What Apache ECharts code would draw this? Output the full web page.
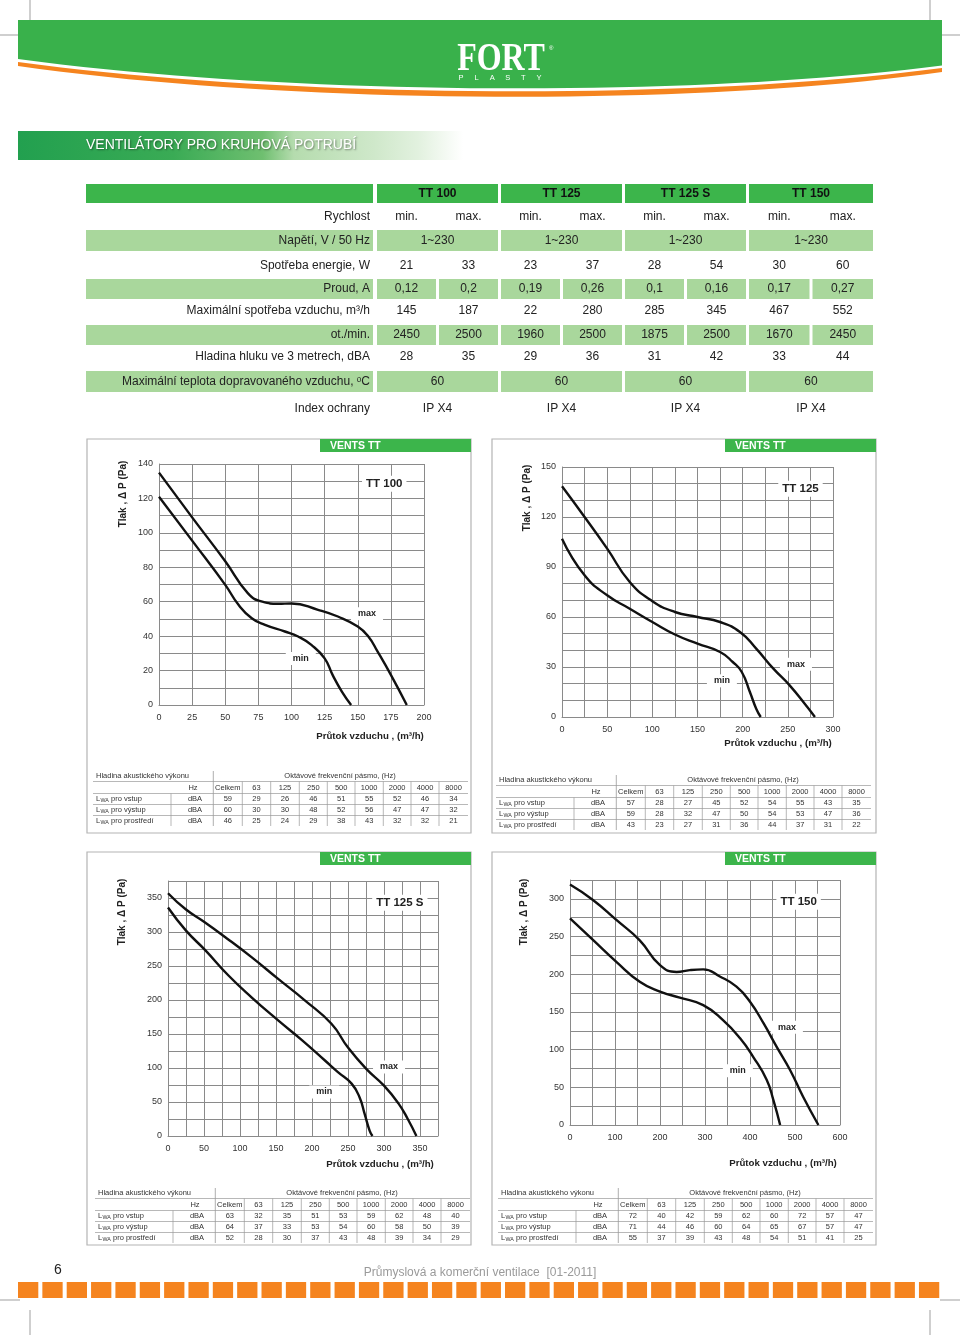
<!DOCTYPE html>
<html><head><meta charset="utf-8">
<script src="https://cdn.jsdelivr.net/npm/echarts@6/dist/echarts.min.js"></script>
<style>html,body{margin:0;padding:0;background:#fff}#c{width:960px;height:1335px}</style>
</head><body><div id="c"></div>
<script>
// ---------------- DATA ----------------
const models = ['TT 100', 'TT 125', 'TT 125 S', 'TT 150'];
const speedRow = ['min.', 'max.', 'min.', 'max.', 'min.', 'max.', 'min.', 'max.'];
const specLabels = ['Rychlost', 'Napětí, V / 50 Hz', 'Spotřeba energie, W', 'Proud, A',
  'Maximální spotřeba vzduchu, m³/h', 'ot./min.', 'Hladina hluku ve 3 metrech, dBA',
  'Maximální teplota dopravovaného vzduchu, ᵒC', 'Index ochrany'];
const voltage = ['1~230', '1~230', '1~230', '1~230'];
const power = [21, 33, 23, 37, 28, 54, 30, 60];
const current = ['0,12', '0,2', '0,19', '0,26', '0,1', '0,16', '0,17', '0,27'];
const airflowMax = [145, 187, 22, 280, 285, 345, 467, 552];
const rpm = [2450, 2500, 1960, 2500, 1875, 2500, 1670, 2450];
const noise = [28, 35, 29, 36, 31, 42, 33, 44];
const maxTemp = [60, 60, 60, 60];
const protection = ['IP X4', 'IP X4', 'IP X4', 'IP X4'];

// pressure curves [flow m3/h, pressure Pa]
const tt100Max = [[0,135],[25,109],[50,83.5],[67,65],[78,60],[90,58.8],[100,59],[120,55.3],[135,51.4],[150,45.6],[158,39.8],[165,31],[175,17.5],[187,0]];
const tt100Min = [[0,121],[25,95.5],[50,69.8],[60,58.2],[70,50.4],[80,46.5],[95,42.7],[105,39.8],[115,34.9],[125,27.1],[131,17.5],[138,7.8],[145,0]];
const tt125Max = [[0,138.4],[25,120],[50,101],[75,81],[100,69.5],[125,63],[150,60],[175,57],[197,51],[215,41],[234,29],[252,19],[270,7],[280,0]];
const tt125Min = [[0,107],[25,85],[50,73],[75,65],[100,57],[125,49.5],[150,44],[175,39],[189,33],[199,27],[208,15],[215,5],[220,0]];
const tt125sMax = [[0,357],[25,333],[50,315],[80,292],[116,263],[153,231],[190,199.5],[227,165],[250,130],[275,99],[300,74],[320,48],[333,25],[345,0]];
const tt125sMin = [[0,336],[25,302],[52,273],[84,236],[116,204],[153,170],[186,141],[218,111],[236,94],[255,77],[266,57],[273,33],[280,8],[284,0]];
const tt150Max = [[0,319],[51,298.5],[103,272],[155,245],[200,212],[237,203],[266,205.5],[296,206.5],[333,197],[370,183.5],[400,163.5],[430,135],[459,104],[489,73],[518,37.5],[552,0]];
const tt150Min = [[0,274],[51,245.5],[103,216.5],[155,190],[200,177],[244,169],[296,159],[340,139],[378,115],[407,90.5],[437,60],[452,33],[467,0]];

// acoustic power tables
const octaveBands = ['Celkem', '63', '125', '250', '500', '1000', '2000', '4000', '8000'];
const acousticRows = ['pro vstup', 'pro výstup', 'pro prostředí'];
const tt100Acoustic = [[59,29,26,46,51,55,52,46,34],[60,30,30,48,52,56,47,47,32],[46,25,24,29,38,43,32,32,21]];
const tt125Acoustic = [[57,28,27,45,52,54,55,43,35],[59,28,32,47,50,54,53,47,36],[43,23,27,31,36,44,37,31,22]];
const tt125sAcoustic = [[63,32,35,51,53,59,62,48,40],[64,37,33,53,54,60,58,50,39],[52,28,30,37,43,48,39,34,29]];
const tt150Acoustic = [[72,40,42,59,62,60,72,57,47],[71,44,46,60,64,65,67,57,47],[55,37,39,43,48,54,51,41,25]];

// ---------------- PRESENTATION ----------------
const FONT = "'Liberation Sans', Arial, sans-serif";
const GREEN = '#3cb54b', LIGHT = '#a9d79c', ORANGE = '#f5841f';
const g = [];
function rect(x, y, w, h, fill, extra) { g.push(Object.assign({type:'rect', silent:true, shape:{x, y, width:w, height:h}, style:{fill}}, extra || {})); }
function line(x1, y1, x2, y2, stroke, w) { g.push({type:'line', silent:true, shape:{x1, y1, x2, y2}, style:{stroke, lineWidth:w || 1}}); }
function text(x, y, t, o) {
  o = o || {};
  g.push({type:'text', silent:true, x, y, rotation:o.rotation || 0, scaleX:o.scaleX || 1, z: o.z || 10,
    style:{text:String(t), fill:o.fill || '#222', fontSize:o.size || 12, fontWeight:o.weight || 'normal',
      fontFamily:o.family || FONT, align:o.align || 'left', verticalAlign:'middle',
      textShadowColor:o.shadow || 'transparent', textShadowBlur:o.shadow ? 2 : 0, textShadowOffsetX:o.shadow ? 1 : 0, textShadowOffsetY:o.shadow ? 1 : 0}});
}
// decorative band with a curved lower edge (cubic bezier sampled into a polygon)
function band(yl, yc, yr, fill) {
  const pts = [[18, 20], [942, 20]];
  const P0 = [942, yr], P1 = [700, yc], P2 = [300, yc], P3 = [18, yl];
  for (let i = 0; i <= 40; i++) {
    const t = i / 40, u = 1 - t;
    pts.push([u*u*u*P0[0] + 3*u*u*t*P1[0] + 3*u*t*t*P2[0] + t*t*t*P3[0],
              u*u*u*P0[1] + 3*u*u*t*P1[1] + 3*u*t*t*P2[1] + t*t*t*P3[1]]);
  }
  g.push({type:'polygon', silent:true, shape:{points:pts}, style:{fill}});
}

// crop marks
[[30,0,30,20],[930,0,930,20],[0,35,20,35],[940,35,960,35],[0,1300,20,1300],[940,1300,960,1300],[30,1310,30,1335],[930,1310,930,1335]]
  .forEach(l => line(l[0], l[1], l[2], l[3], '#777', 0.7));

// header band
band(66, 106, 72, ORANGE);
band(62, 100, 68, '#fff');
band(59, 97, 65.5, '#39b14b');
text(501, 59, 'FORT', {fill:'#fff', size:41, weight:'bold', family:"'Liberation Serif', 'DejaVu Serif', serif", align:'center', scaleX:0.78});
text(549, 48, '®', {fill:'#fff', size:6});
'PLASTY'.split('').forEach((c, i) => text(461 + i * 15.6, 77.5, c, {fill:'#fff', size:7.5, align:'center'}));

// section banner
rect(18, 131, 445, 29, new echarts.graphic.LinearGradient(0, 0, 1, 0, [
  {offset:0, color:'#22a04f'}, {offset:0.35, color:'#3aab55'}, {offset:0.55, color:'#6fbf70'},
  {offset:0.62, color:'#b5dcae'}, {offset:0.8, color:'#cfe8ca'}, {offset:0.9, color:'#e2f1df'}, {offset:1, color:'#ffffff'}]));
text(86, 145.5, 'VENTILÁTORY PRO KRUHOVÁ POTRUBÍ', {fill:'#fff', size:14, shadow:'rgba(0,0,0,0.45)'});

// top spec table
const modelCells = [[377,498],[501,622],[625,746],[749,873]];
const splitCells = [];
modelCells.forEach(c => { const m = (c[0] + c[1]) / 2; splitCells.push([c[0], m - 1.5], [m + 1.5, c[1]]); });
const cx = c => (c[0] + c[1]) / 2;
rect(86, 184, 287, 19, GREEN);
modelCells.forEach((c, i) => { rect(c[0], 184, c[1] - c[0], 19, GREEN); text(cx(c), 193.5, models[i], {size:12, weight:'bold', align:'center', fill:'#111'}); });
const rows = [
  {y:217, vals:speedRow, split:true},
  {y:240.5, vals:voltage, split:false, band:[230,21]},
  {y:265.5, vals:power, split:true},
  {y:288.5, vals:current, split:true, band:[279,20], cells:true},
  {y:311, vals:airflowMax, split:true},
  {y:334.5, vals:rpm, split:true, band:[325,20], cells:true},
  {y:357, vals:noise, split:true},
  {y:381.5, vals:maxTemp, split:false, band:[371,21]},
  {y:408.5, vals:protection, split:false}
];
rows.forEach((r, ri) => {
  if (r.band) {
    rect(86, r.band[0], 287, r.band[1], LIGHT);
    (r.cells ? splitCells : modelCells).forEach(c => rect(c[0], r.band[0], c[1] - c[0], r.band[1], LIGHT));
  }
  text(370, r.y, specLabels[ri], {size:12, align:'right'});
  (r.split ? splitCells : modelCells).forEach((c, i) => text(cx(c), r.y, r.vals[i], {size:12, align:'center'}));
});

// chart panels
const panels = [{x:87,y:439,w:384,h:394},{x:492,y:439,w:384,h:394},{x:87,y:852,w:384,h:393},{x:492,y:852,w:384,h:393}];
panels.forEach(p => {
  g.push({type:'rect', silent:true, shape:{x:p.x, y:p.y, width:p.w, height:p.h}, style:{fill:null, stroke:'#b4b4b4', lineWidth:1.2}});
  rect(p.x + 233, p.y, p.w - 233, 13, GREEN);
  text(p.x + 243, p.y + 7, 'VENTS TT', {fill:'#fff', size:10.5, weight:'bold'});
});

// acoustic tables
const acoustic = [tt100Acoustic, tt125Acoustic, tt125sAcoustic, tt150Acoustic];
const acPos = [{ox:0, oy:776},{ox:403, oy:780},{ox:2, oy:1193},{ox:405, oy:1193}];
const colB = [213.3, 242.3, 270.7, 299.3, 327.3, 355, 383.3, 411, 439, 468];
acPos.forEach((p, ti) => {
  const X = v => v + p.ox, Y = v => v + p.oy;
  const LC = '#9a9a9a', FS = 7.5, TC = '#333';
  line(X(93), Y(5.5), X(468), Y(5.5), LC, 0.7);
  line(X(93), Y(17.5), X(468), Y(17.5), LC, 0.7);
  line(X(93), Y(28.5), X(468), Y(28.5), LC, 0.7);
  line(X(93), Y(39.5), X(468), Y(39.5), LC, 0.7);
  line(X(213.3), Y(-5), X(213.3), Y(50), LC, 0.8);
  colB.slice(1, -1).forEach(b => line(X(b), Y(5.5), X(b), Y(50), LC, 0.7));
  line(X(171), Y(17.5), X(171), Y(50), LC, 0.7);
  text(X(96), Y(0), 'Hladina akustického výkonu', {size:FS, fill:TC});
  text(X(340), Y(0), 'Oktávové frekvenční pásmo, (Hz)', {size:FS, fill:TC, align:'center'});
  text(X(193), Y(12), 'Hz', {size:FS, fill:TC, align:'center'});
  octaveBands.forEach((b, i) => text(X((colB[i] + colB[i + 1]) / 2), Y(12), b, {size:FS, fill:TC, align:'center'}));
  acousticRows.forEach((lbl, ri) => {
    const yy = Y(23 + ri * 11);
    text(X(96), yy, 'L', {size:FS, fill:TC});
    text(X(100.5), yy + 1.8, 'WA', {size:5.3, fill:TC});
    text(X(111), yy, lbl, {size:FS, fill:TC});
    text(X(195), yy, 'dBA', {size:FS, fill:TC, align:'center'});
    acoustic[ti][ri].forEach((v, i) => text(X((colB[i] + colB[i + 1]) / 2), yy, v, {size:FS, fill:TC, align:'center'}));
  });
});

// footer
text(58, 1270, '6', {size:14, fill:'#222', align:'center'});
text(480, 1273, 'Průmyslová a komerční ventilace  [01-2011]', {size:12, fill:'#9a9a9a', align:'center'});
for (let i = 0; i < 38; i++) rect(18 + i * 24.35, 1282, 20.3, 16, ORANGE);

// ---------------- CHARTS ----------------
const curves = [[tt100Max, tt100Min], [tt125Max, tt125Min], [tt125sMax, tt125sMin], [tt150Max, tt150Min]];
const layouts = [
  {grid:{left:159, top:464, width:265, height:241}, x:[200,25,25], y:[140,10,20], tag:[170,128.5], maxAt:[157,53], minAt:[107,27], yTitle:[123,494], xTitle:[370,736]},
  {grid:{left:562, top:467, width:271, height:250}, x:[300,25,50], y:[150,10,30], tag:[264,137], maxAt:[259,31.7], minAt:[177,21.7], yTitle:[527,498], xTitle:[778,743]},
  {grid:{left:168, top:881, width:270, height:255}, x:[375,25,50], y:[375,25,50], tag:[322,343], maxAt:[307,101.5], minAt:[217,64.7], yTitle:[122,912], xTitle:[380,1164]},
  {grid:{left:570, top:880, width:270, height:245}, x:[600,50,100], y:[325,25,50], tag:[508,296], maxAt:[482,129.6], minAt:[373,72], yTitle:[524,912], xTitle:[783,1163]}
];
const grids = [], xAxes = [], yAxes = [], series = [];
const gridLine = {show:true, lineStyle:{color:'#8a8a8a', width:1}};
const noteLabel = {show:true, position:'inside', formatter:'{b}', backgroundColor:'#fff', padding:[2,7],
  fontSize:9, fontWeight:'bold', color:'#222', fontFamily:FONT};
layouts.forEach((L, i) => {
  grids.push(Object.assign({show:false}, L.grid));
  const every = n => v => (Math.round(v) % n === 0 ? String(v) : '');
  xAxes.push({gridIndex:i, type:'value', min:0, max:L.x[0], interval:L.x[1],
    axisLine:{show:true, lineStyle:{color:'#8a8a8a'}}, axisTick:{show:false},
    axisLabel:{fontSize:9, color:'#333', margin:8, fontFamily:FONT, formatter:every(L.x[2])}, splitLine:gridLine});
  yAxes.push({gridIndex:i, type:'value', min:0, max:L.y[0], interval:L.y[1],
    axisLine:{show:true, lineStyle:{color:'#8a8a8a'}}, axisTick:{show:false},
    axisLabel:{fontSize:9, color:'#333', margin:6, fontFamily:FONT, formatter:every(L.y[2])}, splitLine:gridLine});
  ['max', 'min'].forEach((nm, k) => {
    const mp = [{name:nm, coord:k === 0 ? L.maxAt : L.minAt}];
    if (k === 0) mp.push({name:models[i], coord:L.tag, label:{fontSize:11.5, padding:[2,4]}});
    series.push({type:'line', name:models[i] + ' ' + nm, xAxisIndex:i, yAxisIndex:i, data:curves[i][k],
      smooth:0.5, showSymbol:false, symbol:'none', silent:true, z:3,
      lineStyle:{color:'#111', width:2.4},
      markPoint:{symbol:'rect', symbolSize:1, itemStyle:{color:'rgba(0,0,0,0)'}, label:noteLabel, silent:true, z:5, data:mp}});
  });
  text(L.yTitle[0], L.yTitle[1], 'Tlak , Δ P (Pa)', {size:10, weight:'bold', align:'center', rotation:Math.PI / 2});
  text(L.xTitle[0], L.xTitle[1], 'Průtok vzduchu , (m³/h)', {size:9.7, weight:'bold', align:'center'});
});

const chart = echarts.init(document.getElementById('c'), null, {renderer:'canvas'});
chart.setOption({animation:false, backgroundColor:'#fff', grid:grids, xAxis:xAxes, yAxis:yAxes, series, graphic:{elements:g}});
</script>
</body></html>
